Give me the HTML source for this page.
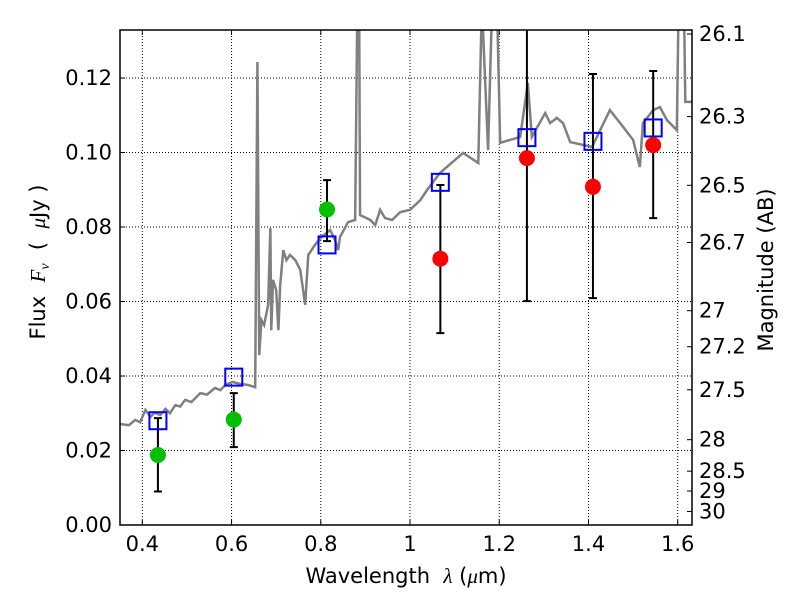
<!DOCTYPE html>
<html><head><meta charset="utf-8"><style>
body{margin:0;background:#fff;}
svg text{font-family:"DejaVu Sans","Liberation Sans",sans-serif;}
</style></head><body>
<svg id="c" width="800" height="600" viewBox="0 0 800 600"></svg>
<script>
const xTicks=[0.4,0.6,0.8,1.0,1.2,1.4,1.6];
const xTickLabels=["0.4","0.6","0.8","1","1.2","1.4","1.6"];
const yTicks=[0,0.02,0.04,0.06,0.08,0.10,0.12];
const yTickLabels=["0.00","0.02","0.04","0.06","0.08","0.10","0.12"];
const magTicks=[26.1,26.3,26.5,26.7,27,27.2,27.5,28,28.5,29,30];
const magTickLabels=["26.1","26.3","26.5","26.7","27","27.2","27.5","28","28.5","29","30"];
const specWave=[0.351,0.370,0.384,0.395,0.407,0.418,0.428,0.440,0.452,0.462,0.474,0.485,0.496,0.510,0.530,0.545,0.563,0.575,0.586,0.602,0.619,0.637,0.653,0.658,0.662,0.667,0.673,0.682,0.687,0.689,0.693,0.700,0.705,0.709,0.716,0.723,0.731,0.743,0.754,0.765,0.772,0.787,0.801,0.821,0.832,0.839,0.843,0.861,0.877,0.882,0.886,0.888,0.911,0.922,0.933,0.944,0.960,0.978,1.000,1.023,1.038,1.067,1.119,1.153,1.161,1.175,1.184,1.195,1.202,1.247,1.264,1.273,1.303,1.314,1.329,1.343,1.359,1.408,1.448,1.471,1.500,1.515,1.522,1.545,1.560,1.576,1.598,1.602,1.614,1.617,1.632];
const specFlux=[0.0271,0.0268,0.0282,0.0276,0.0309,0.0290,0.0302,0.0295,0.0312,0.0300,0.0322,0.0318,0.0336,0.0330,0.0354,0.0350,0.0368,0.0362,0.0376,0.0384,0.0379,0.0376,0.0370,0.1243,0.0456,0.0550,0.0537,0.0591,0.0797,0.0523,0.0658,0.0631,0.0523,0.0644,0.0738,0.0711,0.0725,0.0711,0.0685,0.0591,0.0725,0.0752,0.0773,0.0792,0.0765,0.0738,0.0773,0.0813,0.0819,0.14,0.14,0.0832,0.0819,0.0805,0.0846,0.0824,0.0819,0.0840,0.0846,0.0872,0.0899,0.0945,0.0999,0.0972,0.14,0.1007,0.14,0.14,0.1026,0.1042,0.1187,0.1042,0.1106,0.1079,0.1093,0.1079,0.1028,0.1015,0.1114,0.1079,0.1034,0.0961,0.1079,0.1114,0.1122,0.1087,0.1060,0.14,0.14,0.1136,0.1136];
const modelWave=[0.435,0.605,0.814,1.068,1.262,1.41,1.545];
const modelFlux=[0.028,0.0397,0.0752,0.092,0.104,0.103,0.1066];
const obsWave=[0.435,0.605,0.814,1.068,1.262,1.41,1.545];
const obsFlux=[0.0188,0.0283,0.0847,0.0715,0.0985,0.0908,0.102];
const obsLow=[0.009,0.0209,0.0762,0.0515,0.0601,0.0609,0.0824];
const obsHigh=[0.0287,0.0354,0.0926,0.0913,0.14,0.1211,0.1219];
const obsColor=["#00c000","#00c000","#00c000","#ff0000","#ff0000","#ff0000","#ff0000"];

const L=120,R=692,T=30,B=525,x0=0.35,x1=1.632,y0=0,y1=0.1329;
const X=v=>L+(v-x0)/(x1-x0)*(R-L);
const Y=v=>B-(v-y0)/(y1-y0)*(B-T);
const svg=document.getElementById('c');
const NS='http://www.w3.org/2000/svg';
function mk(t,a,p){const e=document.createElementNS(NS,t);for(const k in a)e.setAttribute(k,a[k]);(p||svg).appendChild(e);return e;}
const defs=mk('defs',{});const cp=mk('clipPath',{id:'clip'},defs);mk('rect',{x:L,y:T,width:R-L,height:B-T},cp);
xTicks.forEach((v,i)=>{
 const g=mk('line',{x1:X(v),x2:X(v),y1:T,y2:B,stroke:'#000','stroke-width':1,'stroke-dasharray':'1,2'});
 
 
 mk('line',{x1:X(v),x2:X(v),y1:B,y2:B-5,stroke:'#000'});
 mk('line',{x1:X(v),x2:X(v),y1:T,y2:T+5,stroke:'#000'});
 const t=mk('text',{x:X(v),y:B+26,'text-anchor':'middle','font-size':21});t.textContent=xTickLabels[i];
 
 
});
yTicks.forEach((v,i)=>{
 if(v>0&&v<y1){const g=mk('line',{x1:L,x2:R,y1:Y(v),y2:Y(v),stroke:'#000','stroke-width':1,'stroke-dasharray':'1,2'});
 
 }
 mk('line',{x1:L,x2:L+5,y1:Y(v),y2:Y(v),stroke:'#000'});
 const t=mk('text',{x:L-8,y:Y(v)+7,'text-anchor':'end','font-size':21});t.textContent=yTickLabels[i];
 
 
});
magTicks.forEach((m,i)=>{
 const f=Math.pow(10,(23.9-m)/2.5);const y=Y(f);
 mk('line',{x1:R,x2:R-5,y1:y,y2:y,stroke:'#000'});
 const t=mk('text',{x:R+7,y:y+7,'font-size':21});t.textContent=magTickLabels[i];
 
 
});
const g=mk('g',{'clip-path':'url(#clip)'});
const sp=mk('polyline',{points:specWave.map((w,i)=>X(w)+','+Y(specFlux[i])).join(' '),fill:'none',stroke:'#808080','stroke-width':2.5},g);


obsWave.forEach((w,i)=>{
 const x=X(w);
 const e=mk('path',{d:`M${x},${Y(obsLow[i])}V${Y(obsHigh[i])}M${x-4},${Y(obsLow[i])}h8M${x-4},${Y(obsHigh[i])}h8`,stroke:'#000','stroke-width':2,fill:'none'},g);
 
 
});
modelWave.forEach((w,i)=>{
 const s=mk('rect',{x:X(w)-8.5,y:Y(modelFlux[i])-8.5,width:17,height:17,fill:'none',stroke:'#0000ff','stroke-width':2},g);
 
 
});
obsWave.forEach((w,i)=>{
 const c=mk('circle',{cx:X(w),cy:Y(obsFlux[i]),r:8,fill:obsColor[i]},g);
 
 
});
const fr=mk('rect',{x:L,y:T,width:R-L,height:B-T,fill:'none',stroke:'#000','stroke-width':1.5});


const xl=mk('text',{x:406,y:583,'text-anchor':'middle','font-size':21});
xl.innerHTML='Wavelength&#160; <tspan font-style="italic" font-family="Liberation Serif,serif">λ</tspan> (<tspan font-style="italic" font-family="Liberation Serif,serif">μ</tspan>m)';


const yl=mk('text',{x:0,y:0,'text-anchor':'middle','font-size':21,transform:'translate(45,262) rotate(-90)'});
yl.innerHTML='Flux&#160; <tspan font-style="italic" font-family="Liberation Serif,serif">F</tspan><tspan font-style="italic" font-size="14" font-family="Liberation Serif,serif" dy="4">ν</tspan><tspan dy="-4">&#160; (&#160; </tspan><tspan font-style="italic" font-family="Liberation Serif,serif">μ</tspan>Jy )';


const ml=mk('text',{x:0,y:0,'text-anchor':'middle','font-size':21,transform:'translate(773,270) rotate(-90)'});
ml.textContent='Magnitude (AB)';


</script>
</body></html>
